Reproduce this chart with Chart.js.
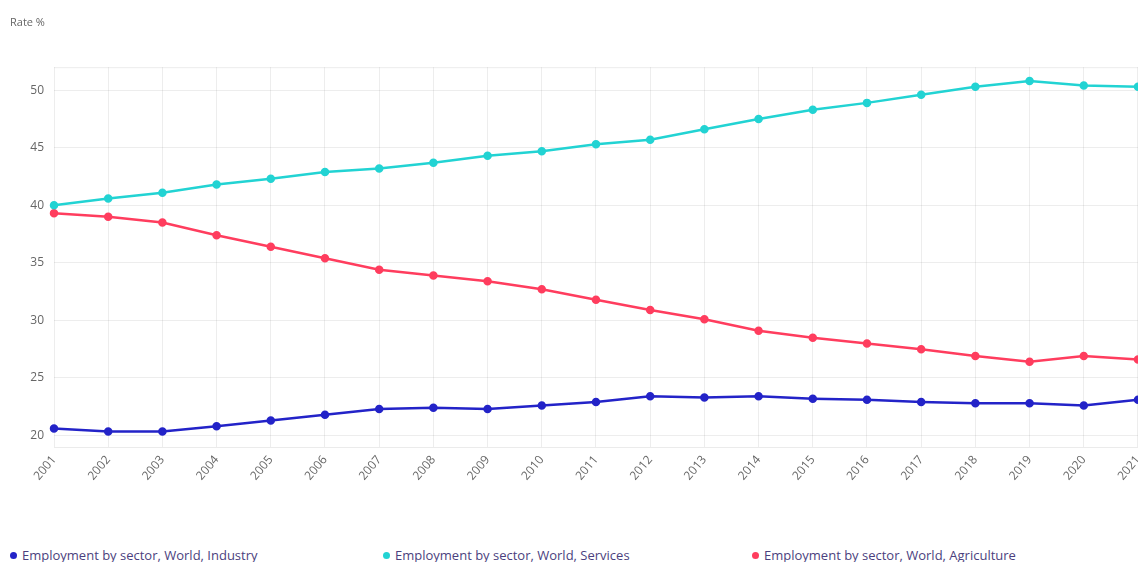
<!DOCTYPE html>
<html>
<head>
<meta charset="utf-8">
<script src="https://cdn.jsdelivr.net/npm/chart.js"></script>
<style>
  html, body { margin: 0; padding: 0; background: #fff; overflow: hidden; }
  body { width: 1138px; height: 562px; position: relative; font-family: "Open Sans", sans-serif; }
  #wrap { position: absolute; left: 0; top: 0; width: 1155px; height: 500px; }
  #legend { position: absolute; left: 0; top: 547px; width: 1138px; height: 16px; }
  .item { position: absolute; top: 0; font-size: 13px; color: #4b3f7e; white-space: nowrap; line-height: 16px; }
  .dot { display: inline-block; width: 7px; height: 7px; border-radius: 50%; margin-right: 5px; vertical-align: 1px; }
</style>
</head>
<body>
<div id="wrap"><canvas id="employmentChart"></canvas></div>
<div id="legend"></div>
<script>
const years = ['2001','2002','2003','2004','2005','2006','2007','2008','2009','2010',
  '2011','2012','2013','2014','2015','2016','2017','2018','2019','2020','2021'];

const seriesNames = [
  'Employment by sector, World, Industry',
  'Employment by sector, World, Services',
  'Employment by sector, World, Agriculture'
];

const industry = [20.6, 20.35, 20.35, 20.8, 21.3, 21.8, 22.3, 22.4, 22.3, 22.6,
  22.9, 23.4, 23.3, 23.4, 23.2, 23.1, 22.9, 22.8, 22.8, 22.6, 23.1];
const services = [40.0, 40.6, 41.1, 41.8, 42.3, 42.9, 43.2, 43.7, 44.3, 44.7,
  45.3, 45.7, 46.6, 47.5, 48.3, 48.9, 49.6, 50.3, 50.8, 50.4, 50.3];
const agriculture = [39.3, 39.0, 38.5, 37.4, 36.4, 35.4, 34.4, 33.9, 33.4, 32.7,
  31.8, 30.9, 30.1, 29.1, 28.5, 28.0, 27.5, 26.9, 26.4, 26.9, 26.6];

const yTicks = [20, 25, 30, 35, 40, 45, 50];
const colors = ['#2323c8', '#22d3d3', '#ff3d5e'];

const datasets = [industry, services, agriculture].map((values, i) => ({
  label: seriesNames[i],
  data: values,
  borderColor: colors[i],
  backgroundColor: colors[i],
  borderWidth: 2.5,
  pointRadius: 3,
  pointHoverRadius: 4,
  tension: 0
}));

// top border of the plot area
const topBorder = {
  id: 'topBorder',
  beforeDatasetsDraw(chart) {
    const { ctx, chartArea } = chart;
    ctx.save();
    ctx.strokeStyle = 'rgba(0,0,0,0.08)';
    ctx.lineWidth = 1;
    ctx.beginPath();
    ctx.moveTo(chartArea.left, chartArea.top + 0.5);
    ctx.lineTo(chartArea.right, chartArea.top + 0.5);
    ctx.stroke();
    ctx.restore();
  }
};

new Chart(document.getElementById('employmentChart'), {
  type: 'line',
  data: { labels: years, datasets: datasets },
  plugins: [topBorder],
  options: {
    responsive: true,
    maintainAspectRatio: false,
    animation: false,
    layout: { padding: { left: 10, right: 0, top: 0, bottom: 0 } },
    plugins: {
      legend: { display: false },
      tooltip: { enabled: false },
      title: {
        display: true,
        text: 'Rate %',
        align: 'start',
        color: '#666',
        font: { family: 'Open Sans', size: 11, weight: 'normal' },
        padding: { top: 16, bottom: 38 }
      }
    },
    scales: {
      x: {
        afterFit: (s) => { s.height = 53; },
        grid: { color: 'rgba(0,0,0,0.07)', drawTicks: false },
        border: { color: 'rgba(0,0,0,0.08)' },
        ticks: {
          autoSkip: false,
          minRotation: 50,
          maxRotation: 50,
          padding: 6,
          color: '#666',
          font: { family: 'Open Sans', size: 12 }
        }
      },
      y: {
        min: 19,
        max: 52,
        afterFit: (s) => { s.width = 44; },
        afterBuildTicks: (s) => { s.ticks = yTicks.map(v => ({ value: v })); },
        grid: { color: 'rgba(0,0,0,0.07)', drawTicks: false },
        border: { display: false },
        ticks: {
          padding: 10,
          color: '#666',
          font: { family: 'Open Sans', size: 12 }
        }
      }
    }
  }
});

// legend row under the chart
const legendX = [10, 383, 752];
const legend = document.getElementById('legend');
seriesNames.forEach((name, i) => {
  const item = document.createElement('div');
  item.className = 'item';
  item.style.left = legendX[i] + 'px';
  item.innerHTML = '<span class="dot" style="background:' + colors[i] + '"></span>' + name;
  legend.appendChild(item);
});
</script>
</body>
</html>
